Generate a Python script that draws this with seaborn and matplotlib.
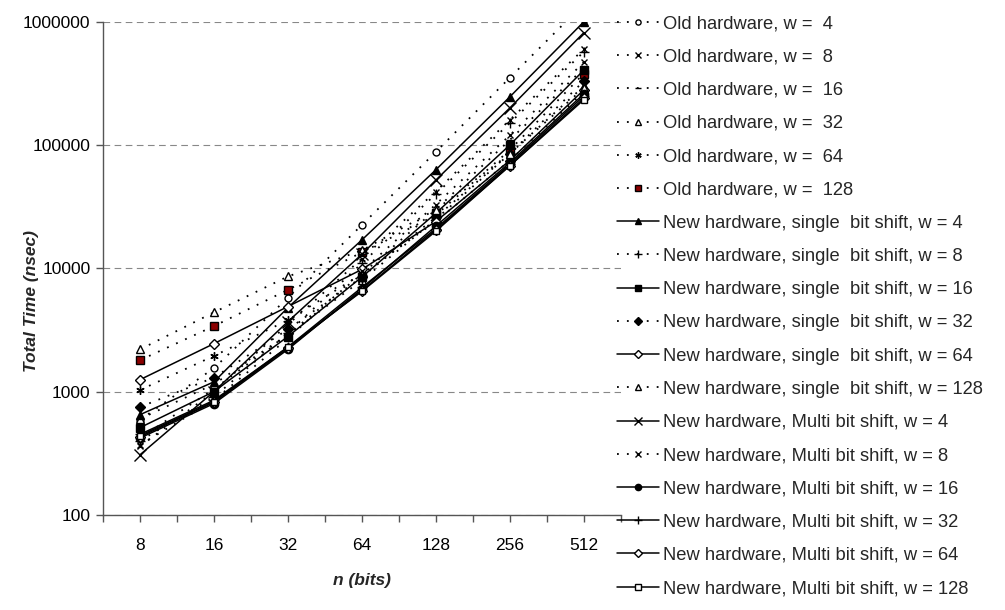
import matplotlib
matplotlib.use("Agg")
import matplotlib.pyplot as plt
import matplotlib.ticker as mticker
import numpy as np
import seaborn as sns

# Key sizes (bits) on the categorical x axis
n_bits = ["8", "16", "32", "64", "128", "256", "512"]

# Total time in nsec for each configuration
old_w4 = [590, 1550, 5770, 22500, 88000, 352000, 1400000]
old_w8 = [360, 1000, 3500, 12000, 42000, 160000, 600000]
old_w16 = [420, 1050, 2900, 9000, 30000, 110000, 420000]
old_w32 = [600, 1150, 2900, 8000, 25000, 85000, 300000]
old_w64 = [1030, 1950, 3800, 9000, 24000, 75000, 270000]
old_w128 = [1800, 3400, 6700, 13500, 27000, 91000, 380000]

single_w4 = [650, 1200, 4800, 17000, 63000, 246000, 1000000]
single_w8 = [400, 900, 3000, 11000, 40000, 151000, 570000]
single_w16 = [510, 1000, 2800, 8500, 28000, 100000, 405000]
single_w32 = [750, 1300, 3200, 8500, 26000, 85000, 330000]
single_w64 = [1250, 2450, 4900, 9800, 24000, 75000, 280000]
single_w128 = [2200, 4400, 8600, 14000, 30000, 85000, 290000]

multi_w4 = [307, 1000, 3700, 13000, 52000, 200000, 815000]
multi_w8 = [370, 850, 2700, 9500, 33000, 120000, 470000]
multi_w16 = [420, 800, 2200, 6800, 22000, 72000, 260000]
multi_w32 = [450, 850, 2300, 7000, 21000, 70000, 250000]
multi_w64 = [430, 820, 2250, 6600, 20500, 68000, 240000]
multi_w128 = [440, 830, 2300, 6500, 20000, 68000, 233000]

labels = [
    "Old hardware, w =  4",
    "Old hardware, w =  8",
    "Old hardware, w =  16",
    "Old hardware, w =  32",
    "Old hardware, w =  64",
    "Old hardware, w =  128",
    "New hardware, single  bit shift, w = 4",
    "New hardware, single  bit shift, w = 8",
    "New hardware, single  bit shift, w = 16",
    "New hardware, single  bit shift, w = 32",
    "New hardware, single  bit shift, w = 64",
    "New hardware, single  bit shift, w = 128",
    "New hardware, Multi bit shift, w = 4",
    "New hardware, Multi bit shift, w = 8",
    "New hardware, Multi bit shift, w = 16",
    "New hardware, Multi bit shift, w = 32",
    "New hardware, Multi bit shift, w = 64",
    "New hardware, Multi bit shift, w = 128",
]
series = [old_w4, old_w8, old_w16, old_w32, old_w64, old_w128,
          single_w4, single_w8, single_w16, single_w32, single_w64, single_w128,
          multi_w4, multi_w8, multi_w16, multi_w32, multi_w64, multi_w128]

DOT = (0, (1, 4.5))
asterisk = (6, 2, 0)
# (marker, face colour, line style, marker size)
styles = [
    ("o", "white", DOT, 5),
    ("x", "black", DOT, 5),
    ("_", "black", DOT, 6),
    ("^", "white", DOT, 6),
    (asterisk, "black", DOT, 6),
    ("s", "#8B0000", DOT, 6),
    ("^", "black", "-", 6),
    ("+", "black", DOT, 7),
    ("s", "black", "-", 6),
    ("D", "black", DOT, 5),
    ("D", "white", "-", 5),
    ("^", "white", DOT, 6),
    ("x", "black", "-", 8),
    ("x", "black", DOT, 5),
    ("o", "black", "-", 6),
    ("+", "black", "-", 7),
    ("D", "white", "-", 5),
    ("s", "white", "-", 5),
]

sns.set_theme(style="white")
plt.rcParams["font.family"] = ["Liberation Sans", "DejaVu Sans"]

fig = plt.figure(figsize=(10.05, 6.1), dpi=100)
ax = fig.add_axes([0.1025, 0.156, 0.515, 0.808])

pos = np.arange(len(n_bits))
for vals, lab, (mk, fc, ls, ms) in zip(series, labels, styles):
    lw = 1.3 if ls is DOT else 1.1
    sns.lineplot(x=pos, y=vals, ax=ax, color="black", linewidth=lw,
                 linestyle=ls, marker=mk, markersize=ms,
                 markerfacecolor=fc, markeredgecolor="black",
                 markeredgewidth=1.0, label=lab, legend=False)

ax.set_yscale("log")
ax.set_ylim(100, 1000000)
ax.set_xlim(-0.5, len(n_bits) - 0.5)
ax.yaxis.set_major_locator(mticker.FixedLocator([100, 1000, 10000, 100000, 1000000]))
ax.yaxis.set_major_formatter(mticker.FuncFormatter(lambda v, p: f"{int(round(v))}"))
ax.yaxis.set_minor_locator(mticker.NullLocator())
ax.set_xticks(pos)
ax.set_xticklabels(n_bits)
ax.set_xticks(np.arange(-0.5, len(n_bits), 1.0), minor=True)

ax.grid(axis="y", which="major", color="#888888", linestyle=(0, (6, 4)), linewidth=0.8)
ax.grid(axis="x", visible=False)
for s in ("top", "right"):
    ax.spines[s].set_visible(False)
for s in ("left", "bottom"):
    ax.spines[s].set_color("#555555")
    ax.spines[s].set_linewidth(1.0)
ax.tick_params(axis="both", which="both", direction="out", length=5,
               width=1.0, color="#555555", labelsize=12.5, labelcolor="black")
ax.tick_params(axis="x", which="major", pad=12, bottom=True)
ax.tick_params(axis="x", which="minor", bottom=True)
ax.tick_params(axis="y", which="major", left=True, pad=4)

ax.set_xlabel("n (bits)", fontsize=12.5, fontweight="bold", fontstyle="italic")
ax.set_ylabel("Total Time (nsec)", fontsize=12.5, fontweight="bold", fontstyle="italic")
ax.xaxis.set_label_coords(0.5, -0.118)
ax.yaxis.set_label_coords(-0.123, 0.434)

handles, labs = ax.get_legend_handles_labels()
fig.legend(handles, labs, loc="upper left", bbox_to_anchor=(0.607, 0.987),
           frameon=False, fontsize=13.2, labelspacing=0.885, handlelength=2.25,
           handletextpad=0.25, borderaxespad=0.0, markerscale=0.75)

fig.savefig("out.png", dpi=100)
